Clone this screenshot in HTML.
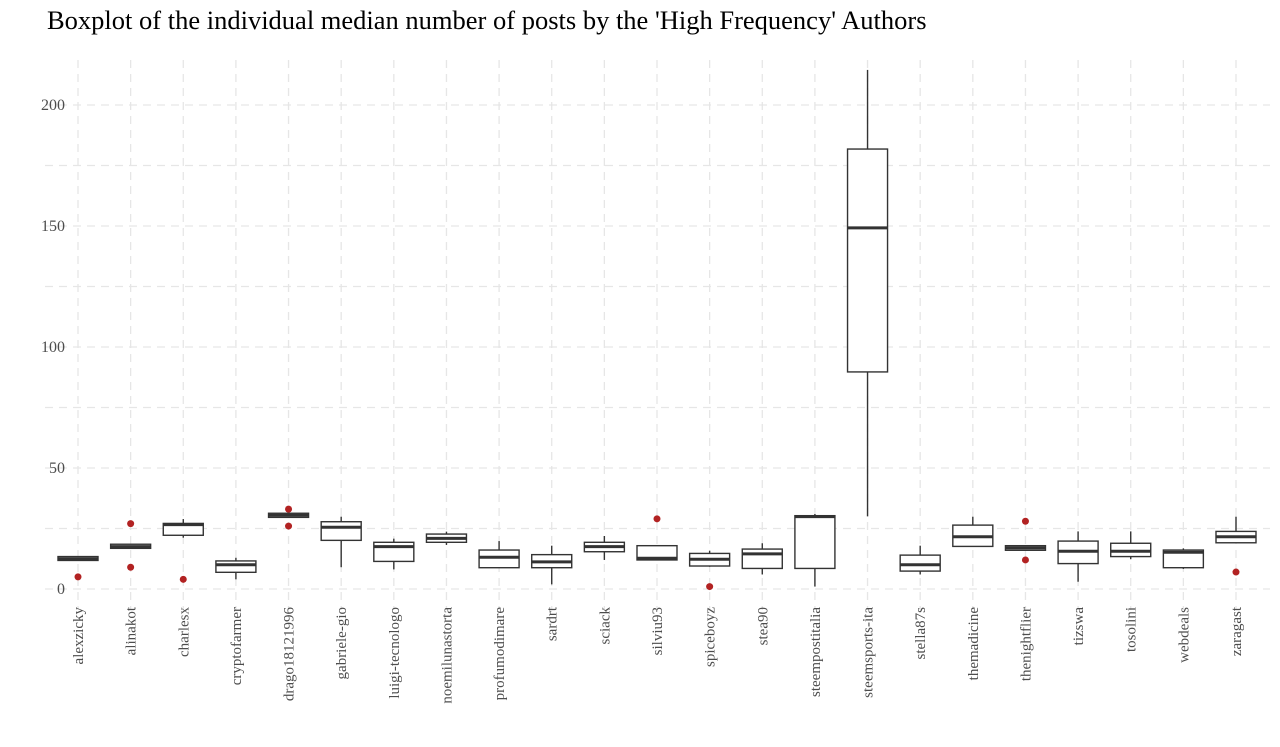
<!DOCTYPE html>
<html><head><meta charset="utf-8"><style>
html,body{margin:0;padding:0;background:#fff;}
svg{display:block;font-family:"Liberation Serif",serif;}
</style></head><body>
<svg id="chart" width="1280" height="747" xmlns="http://www.w3.org/2000/svg">
<text x="47" y="29" font-size="26.5" fill="#000">Boxplot of the individual median number of posts by the 'High Frequency' Authors</text>
<g id="grid"></g>
<g id="yaxis"></g>
<g id="xaxis"></g>
<g id="boxes"></g>
</svg>
<script>
const categories=["alexzicky","alinakot","charlesx","cryptofarmer","drago18121996","gabriele-gio","luigi-tecnologo","noemilunastorta","profumodimare","sardrt","sciack","silviu93","spiceboyz","stea90","steempostitalia","steemsports-ita","stella87s","themadicine","thenightflier","tizswa","tosolini","webdeals","zaragast"];
const q1=[11.8,16.8,22.2,6.9,29.6,20.1,11.4,19.3,8.8,8.8,15.4,12,9.5,8.5,8.5,89.7,7.4,17.6,16,10.5,13.4,8.8,19.1];
const med=[12.5,17.5,26.6,10,30.5,25.5,17.5,20.9,13.1,11.2,17.5,12.7,12.3,14.5,29.9,149.2,10,21.6,17,15.6,15.6,15.2,21.6];
const q3=[13.4,18.5,27.1,11.6,31.3,27.8,19.3,22.7,16.1,14.2,19.3,17.9,14.7,16.5,30.3,181.8,14,26.4,17.9,19.8,18.9,16.1,23.8];
const lo=[11.8,16.8,21.2,4,29.6,9,8.1,18.2,8.8,1.9,12,12,9.2,6,1,30,6,17.6,16,3,12.3,8.3,19.1];
const hi=[13.4,18.5,28.9,12.9,31.3,29.9,20.8,23.7,19.8,17.9,21.9,17.9,15.8,18.9,31,214.5,17.9,29.9,17.9,23.8,23.8,16.8,29.9];
const outliers=[[5],[27,9],[4],[],[33,26],[],[],[],[],[],[],[29],[1],[],[],[],[],[],[28,12],[],[],[],[7]];
const yTicks=[0,50,100,150,200];
const yMinor=[25,75,125,175];

const NS="http://www.w3.org/2000/svg";
const x0=78, x1=1236;
const n=categories.length;
const step=(x1-x0)/(n-1);
function xs(i){return x0+i*step;}
function ys(v){return 589-v*2.42;}
function mk(tag,attrs,parent){const e=document.createElementNS(NS,tag);for(const k in attrs)e.setAttribute(k,attrs[k]);parent.appendChild(e);return e;}
const grid=document.getElementById('grid'),yax=document.getElementById('yaxis'),xax=document.getElementById('xaxis'),bx=document.getElementById('boxes');
yTicks.concat(yMinor).forEach(v=>{
  const l=mk('line',{x1:45,x2:1270,y1:ys(v),y2:ys(v),stroke:'#e6e6e6','stroke-width':1.3,'stroke-dasharray':'8,6'},grid);
  
  
});
categories.forEach((c,i)=>{
  const l=mk('line',{x1:xs(i),x2:xs(i),y1:60,y2:610,stroke:'#e6e6e6','stroke-width':1.3,'stroke-dasharray':'8,6'},grid);
  
  
});
yTicks.forEach(v=>{
  const t=mk('text',{x:65,y:ys(v)+5,'text-anchor':'end','font-size':16,fill:'#4d4d4d'},yax);
  t.textContent=v;
  
  
});
categories.forEach((c,i)=>{
  const t=mk('text',{x:0,y:0,'text-anchor':'end','font-size':15,fill:'#4d4d4d',transform:`translate(${xs(i)+5},607) rotate(-90)`},xax);
  t.textContent=c;
  
  
});
const hw=step*0.38;
categories.forEach((c,i)=>{
  const g=mk('g',{},bx);
  
  
  const x=xs(i);
  mk('line',{x1:x,x2:x,y1:ys(hi[i]),y2:ys(q3[i]),stroke:'#333','stroke-width':1.4},g);
  mk('line',{x1:x,x2:x,y1:ys(q1[i]),y2:ys(lo[i]),stroke:'#333','stroke-width':1.4},g);
  const r=mk('rect',{x:x-hw,y:ys(q3[i]),width:2*hw,height:Math.max(ys(q1[i])-ys(q3[i]),0.5),fill:'#fff',stroke:'#333','stroke-width':1.4},g);
  
  
  const m=mk('line',{x1:x-hw,x2:x+hw,y1:ys(med[i]),y2:ys(med[i]),stroke:'#333','stroke-width':3},g);
  
  
  outliers[i].forEach(v=>{
    const o=mk('circle',{cx:x,cy:ys(v),r:3.5,fill:'#b22222'},g);
    
    
  });
});
</script>
</body></html>
